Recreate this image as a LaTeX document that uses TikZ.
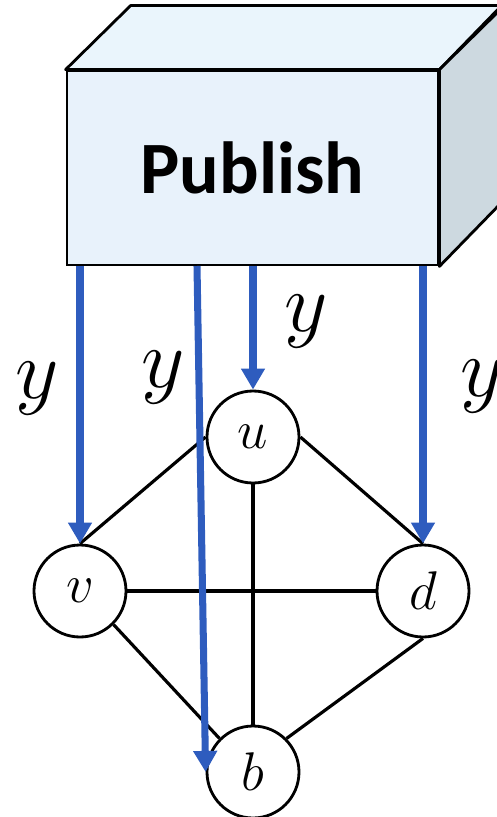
\documentclass[tikz,border=0pt]{standalone}
\usepackage{fix-cm}
\usepackage{fontspec}
\newfontfamily\pubfont{Carlito}
\usetikzlibrary{arrows.meta}
\definecolor{frontblue}{RGB}{232,242,251}
\definecolor{topblue}{RGB}{234,245,252}
\definecolor{sidegrey}{RGB}{205,217,224}
\definecolor{arrowblue}{RGB}{46,92,190}
\begin{document}
\begin{tikzpicture}[
    vertex/.style={circle, draw, line width=1.6pt, fill=white, minimum size=1.84cm, inner sep=0pt,
                   font=\fontsize{31}{36}\selectfont},
    edge/.style={line width=1.8pt},
    pubarrow/.style={draw=arrowblue, line width=4pt, -{Triangle[length=12pt,width=13pt]}},
    lab/.style={font=\fontsize{48}{54}\selectfont, inner sep=0pt}
  ]
    \useasboundingbox (0,0) rectangle (9.94,-16.34);
    \clip (0,0) rectangle (9.94,-16.34);

    % 盒子
    \node[draw, line width=1.6pt, fill=frontblue, minimum width=7.42cm, minimum height=3.88cm,
          font=\pubfont\bfseries\fontsize{42}{48}\selectfont] (pub) at (5.05,-3.36) {Publish};
    \fill[topblue, draw=black, line width=1.6pt, line join=round]
        (pub.north west) -- ++(1.30,1.28) -- ++(7.42,0) -- (pub.north east) -- cycle;
    \fill[sidegrey, draw=black, line width=1.6pt, line join=round]
        (pub.north east) -- ++(1.30,1.28) -- ++(0,-3.88) -- (pub.south east) -- cycle;

    % 定義頂點的位置
    \node[vertex] (u) at (5.06,-8.74) {$u$};
    \node[vertex] (v) at (1.60,-11.82) {$v$};
    \node[vertex] (d) at (8.46,-11.82) {$d$};
    \node[vertex] (b) at (5.06,-15.44) {$b$};

    % 畫出邊
    \draw[edge] (v.north) -- (u.west);
    \draw[edge] (u.east) -- (d.north);
    \draw[edge] (u.south) -- (b.north);
    \draw[edge] (v.east) -- (d.west);
    \draw[edge] (v.south east) -- (b.north west);
    \draw[edge] (d.south) -- (b.north east);

    % 發布的箭頭
    \coordinate (s2) at (3.94,-5.32);
    \draw[pubarrow] (pub.south -| v) -- (v.north);
    \draw[pubarrow] (s2) -- (b.west);
    \draw[pubarrow] (pub.south -| u) -- (u.north);
    \draw[pubarrow] (pub.south -| d) -- (d.north);

    % 標籤
    \node[lab] (y1) at (0.74,-7.78) {$y$};
    \node[lab] (y2) at (3.26,-7.56) {$y$};
    \node[lab] (y3) at (6.12,-6.44) {$y$};
    \node[lab] (y4) at (9.64,-7.74) {$y$};
\end{tikzpicture}
\end{document}
